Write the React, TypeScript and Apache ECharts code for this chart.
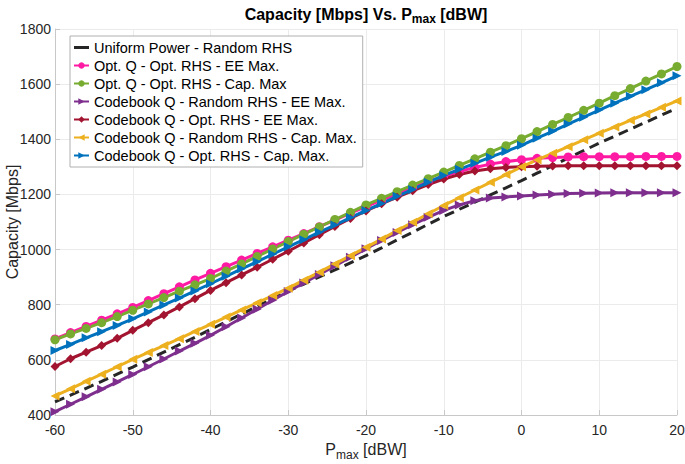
import { useEffect, useRef } from 'react';
import * as echarts from 'echarts';

// P_max in dBW, one point every 2 dBW
const pMaxDbw = [
    -60, -58, -56, -54, -52, -50, -48, -46, -44, -42, -40, -38, -36, -34, -32, -30, -28, -26, -24, -22, -20,
    -18, -16, -14, -12, -10, -8, -6, -4, -2, 0, 2, 4, 6, 8, 10, 12, 14, 16, 18, 20,
];

const uniformRandom = [
    448, 472, 497, 522, 548, 574, 601, 628, 655, 682, 710, 738, 766, 794, 822, 850, 875, 901, 926, 952, 978,
    1006, 1035, 1063, 1092, 1120, 1146, 1172, 1198, 1224, 1250, 1277, 1304, 1332, 1359, 1386, 1411, 1437, 1462, 1488, 1513,
];
const optQOptEE = [
    676, 699, 721, 744, 767, 790, 815, 840, 865, 890, 914, 938, 962, 986, 1010, 1034, 1058, 1083, 1107, 1132, 1156,
    1179, 1202, 1224, 1246, 1266, 1283, 1298, 1310, 1319, 1326, 1331, 1334, 1336, 1337, 1337, 1337, 1337, 1338, 1338, 1338,
];
const optQOptCap = [
    673, 694, 714, 735, 757, 780, 803, 826, 849, 872, 895, 922, 948, 975, 1002, 1029, 1056, 1082, 1109, 1135, 1162,
    1186, 1210, 1234, 1257, 1281, 1305, 1329, 1353, 1377, 1402, 1428, 1454, 1479, 1505, 1531, 1558, 1584, 1611, 1637, 1664,
];
const cbRandomEE = [
    412, 439, 466, 493, 520, 547, 575, 603, 632, 660, 689, 720, 752, 784, 816, 848, 879, 910, 941, 972, 1003,
    1033, 1062, 1090, 1117, 1142, 1162, 1177, 1187, 1191, 1194, 1198, 1201, 1203, 1204, 1205, 1206, 1206, 1206, 1206, 1206,
];
const cbOptEE = [
    576, 604, 628, 652, 678, 707, 735, 763, 792, 822, 852, 880, 908, 936, 965, 994, 1024, 1054, 1084, 1113, 1140,
    1166, 1190, 1213, 1236, 1256, 1272, 1285, 1293, 1298, 1300, 1302, 1303, 1304, 1304, 1304, 1304, 1304, 1304, 1304, 1304,
];
const cbRandomCap = [
    469, 495, 522, 548, 575, 602, 627, 652, 677, 703, 729, 755, 781, 807, 833, 860, 889, 918, 948, 978, 1008,
    1038, 1069, 1099, 1130, 1160, 1188, 1216, 1244, 1272, 1300, 1325, 1349, 1373, 1398, 1422, 1445, 1469, 1492, 1516, 1539,
];
const cbOptCap = [
    634, 656, 680, 702, 725, 749, 774, 799, 824, 850, 876, 903, 930, 956, 983, 1010, 1036, 1063, 1089, 1116, 1142,
    1167, 1193, 1218, 1244, 1269, 1291, 1313, 1335, 1356, 1378, 1404, 1429, 1455, 1480, 1506, 1531, 1556, 1580, 1605, 1630,
];

const seriesNames = [
    'Uniform Power - Random RHS',
    'Opt. Q - Opt. RHS - EE Max.',
    'Opt. Q - Opt. RHS - Cap. Max',
    'Codebook Q - Random RHS - EE Max.',
    'Codebook Q - Opt. RHS - EE Max.',
    'Codebook Q - Random RHS - Cap. Max.',
    'Codebook Q - Opt. RHS - Cap. Max.',
];
const seriesValues = [uniformRandom, optQOptEE, optQOptCap, cbRandomEE, cbOptEE, cbRandomCap, cbOptCap];
const seriesColors = ['#262626', '#ff1aa3', '#77ac30', '#7e2f8e', '#a2142f', '#edb120', '#0072bd'];
const seriesSymbols = ['none', 'circle', 'circle', 'triangle', 'diamond', 'triangle', 'triangle'];
const symbolRotations = [0, 0, 0, -90, 0, 90, -90];

const xTicks = { min: -60, max: 20, step: 10 };
const yTicks = { min: 400, max: 1800, step: 200 };

const FONT = '"Liberation Sans", Arial, Helvetica, sans-serif';
const INK = '#262626';
// thick bar in the middle of an 8px-high box, for the dashed series' legend entry
const BAR_ICON = 'path://M0,0M0,8M0,2.5h15v3h-15z';

export default function App() {
    const chartRef = useRef<HTMLDivElement>(null);

    useEffect(() => {
        if (!chartRef.current) return;
        const chart = echarts.init(chartRef.current, undefined, { renderer: 'svg' });

        const series = seriesNames.map((name, i) => ({
            name,
            type: 'line',
            data: pMaxDbw.map((x, j) => [x, seriesValues[i][j]]),
            symbol: seriesSymbols[i],
            symbolSize: 9,
            symbolRotate: symbolRotations[i],
            showAllSymbol: true,
            lineStyle: {
                color: seriesColors[i],
                width: 3,
                type: i === 0 ? [10, 6] : 'solid',
            },
            itemStyle: { color: seriesColors[i] },
        }));

        chart.setOption({
            animation: false,
            textStyle: { fontFamily: FONT },
            grid: { left: 55, right: 8, top: 29, bottom: 49, containLabel: false, outerBoundsMode: 'none' },
            graphic: [
                {
                    type: 'text',
                    x: 366,
                    y: 3,
                    style: {
                        text: '{b|Capacity [Mbps] Vs. P}{s|max}{b| [dBW]}',
                        align: 'center',
                        rich: {
                            b: { fontSize: 16, fontWeight: 'bold', fill: '#000', fontFamily: FONT },
                            s: { fontSize: 12, fontWeight: 'bold', fill: '#000', fontFamily: FONT, padding: [10, 0, 0, 0] },
                        },
                    },
                },
            ],
            legend: {
                orient: 'vertical',
                left: 70,
                top: 36,
                padding: [4, 6, 4, 3],
                itemGap: 3,
                itemWidth: 15,
                itemHeight: 8,
                backgroundColor: '#fff',
                borderColor: '#b0b0b0',
                borderWidth: 1,
                textStyle: { fontSize: 14.5, color: '#000', fontFamily: FONT },
                data: seriesNames.map((name, i) => (i === 0 ? { name, icon: BAR_ICON } : { name })),
            },
            xAxis: {
                type: 'value',
                min: xTicks.min,
                max: xTicks.max,
                interval: xTicks.step,
                name: 'P{s|max} [dBW]',
                nameLocation: 'middle',
                nameGap: 22,
                nameTextStyle: {
                    fontSize: 16,
                    color: INK,
                    rich: { s: { fontSize: 12, color: INK, padding: [10, 0, 0, 0] } },
                },
                axisLine: { onZero: false, lineStyle: { color: '#c8c8c8' } },
                axisTick: { inside: true, length: 5, lineStyle: { color: '#c8c8c8' } },
                axisLabel: { fontSize: 14, color: INK, margin: 8 },
                splitLine: { lineStyle: { color: '#ebebeb' } },
            },
            yAxis: {
                type: 'value',
                min: yTicks.min,
                max: yTicks.max,
                interval: yTicks.step,
                name: 'Capacity [Mbps]',
                nameLocation: 'middle',
                nameGap: 35,
                nameMoveOverlap: false,
                nameTextStyle: { fontSize: 16, color: INK },
                axisLine: { show: true, onZero: false, lineStyle: { color: '#c8c8c8' } },
                axisTick: { show: true, inside: true, length: 5, lineStyle: { color: '#c8c8c8' } },
                axisLabel: { fontSize: 14, color: INK, margin: 4, formatter: (v: number) => String(v) },
                splitLine: { lineStyle: { color: '#ebebeb' } },
            },
            series,
        });

        return () => {
            chart.dispose();
        };
    }, []);

    return (
        <div
            ref={chartRef}
            style={{ position: 'absolute', left: 0, top: 0, width: 685, height: 464, background: '#fff' }}
        />
    );
}
